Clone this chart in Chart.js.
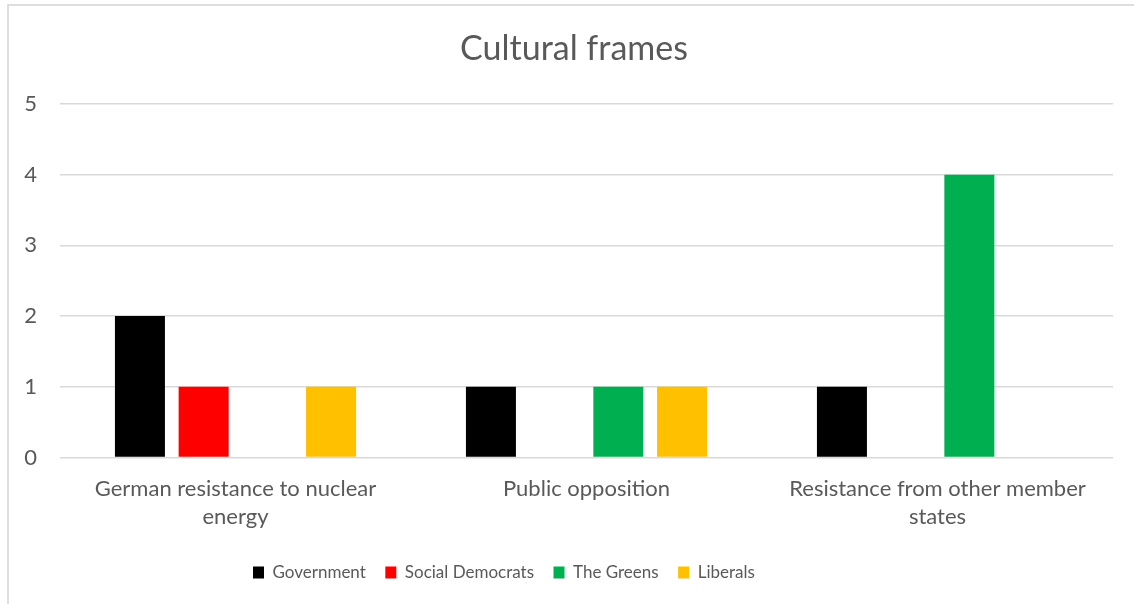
<!DOCTYPE html>
<html>
<head>
<meta charset="utf-8">
<title>Cultural frames</title>
<script src="https://cdn.jsdelivr.net/npm/chart.js@4.4.1/dist/chart.umd.min.js"></script>
<style>
  html, body { margin: 0; padding: 0; background: #ffffff; }
  #wrap { width: 1134px; height: 604px; position: relative; }
</style>
</head>
<body>
<div id="wrap"><canvas id="chart" width="1134" height="604"></canvas></div>
<script>
// Frame categories (wrapped onto two lines where needed)
const categories = [
  ["German resistance to nuclear", "energy"],
  ["Public opposition"],
  ["Resistance from other member", "states"]
];

// Number of mentions per party
const government      = [2, 1, 1];
const socialDemocrats = [1, 0, 0];
const theGreens       = [0, 1, 4];
const liberals        = [1, 1, 0];

const yTicks = [0, 1, 2, 3, 4, 5];

const TEXT = '#595959';
const GRID = '#d9d9d9';
const FONT = 'Lato, "Open Sans", sans-serif';
const TITLE_CENTER_X = 574;   // horizontal centre of the chart title
const LEGEND_START_X = 253;   // left edge of the first legend swatch

// Light frame round the chart (left and top edges)
const framePlugin = {
  id: 'frame',
  beforeDraw(chart) {
    const ctx = chart.ctx;
    ctx.save();
    ctx.fillStyle = '#ffffff';
    ctx.fillRect(0, 0, chart.width, chart.height);
    ctx.strokeStyle = '#d4d4d4';
    ctx.lineWidth = 1.5;
    ctx.beginPath();
    ctx.moveTo(8, chart.height);
    ctx.lineTo(8, 5);
    ctx.lineTo(chart.width, 5);
    ctx.stroke();
    ctx.restore();
  }
};

// Centre the title over the whole frame and start the legend row at a fixed x
const placeBlocks = {
  id: 'placeBlocks',
  afterLayout(chart) {
    const tb = chart.titleBlock;
    if (tb) {
      const dx = TITLE_CENTER_X - (tb.left + tb.right) / 2;
      tb.left += dx;
      tb.right += dx;
    }
    const lg = chart.legend;
    if (lg && lg.lineWidths) {
      const pad = lg.options.labels.padding;
      const cursorX = (lg.left + pad + lg.right - lg.lineWidths[0]) / 2;
      const dx = LEGEND_START_X - cursorX;
      lg.left += dx;
      lg.right += dx;
    }
  }
};

new Chart(document.getElementById('chart'), {
  type: 'bar',
  data: {
    labels: categories,
    datasets: [
      { label: 'Government',       data: government,      backgroundColor: '#000000' },
      { label: 'Social Democrats', data: socialDemocrats, backgroundColor: '#ff0000' },
      { label: 'The Greens',       data: theGreens,       backgroundColor: '#00b050' },
      { label: 'Liberals',         data: liberals,        backgroundColor: '#ffc000' }
    ]
  },
  options: {
    responsive: false,
    animation: false,
    devicePixelRatio: 1,
    layout: { padding: { left: 0, right: 21, top: 0, bottom: 13 } },
    datasets: {
      bar: { categoryPercentage: 0.726, barPercentage: 0.785, borderWidth: 0 }
    },
    scales: {
      x: {
        grid: { display: false, drawTicks: false },
        border: { display: false },
        ticks: {
          color: TEXT,
          font: { family: FONT, size: 22, lineHeight: 1.27 },
          padding: 17,
          maxRotation: 0,
          autoSkip: false
        },
        afterFit(scale) { scale.height = 87; }
      },
      y: {
        min: 0,
        max: 5,
        afterBuildTicks(scale) { scale.ticks = yTicks.map(v => ({ value: v })); },
        grid: { color: GRID, lineWidth: 1.6, drawTicks: false },
        border: { display: false },
        ticks: {
          color: TEXT,
          font: { family: FONT, size: 22 },
          padding: 23
        },
        afterFit(scale) { scale.width = 60; }
      }
    },
    plugins: {
      title: {
        display: true,
        text: 'Cultural frames',
        color: TEXT,
        font: { family: FONT, size: 34, weight: 'normal', lineHeight: 1.2 },
        padding: { top: 29, bottom: 34.2 }
      },
      legend: {
        position: 'bottom',
        labels: {
          color: TEXT,
          font: { family: FONT, size: 17 },
          boxWidth: 11,
          boxHeight: 12,
          padding: 19.5
        }
      },
      tooltip: { enabled: false }
    }
  },
  plugins: [framePlugin, placeBlocks]
});
</script>
</body>
</html>
